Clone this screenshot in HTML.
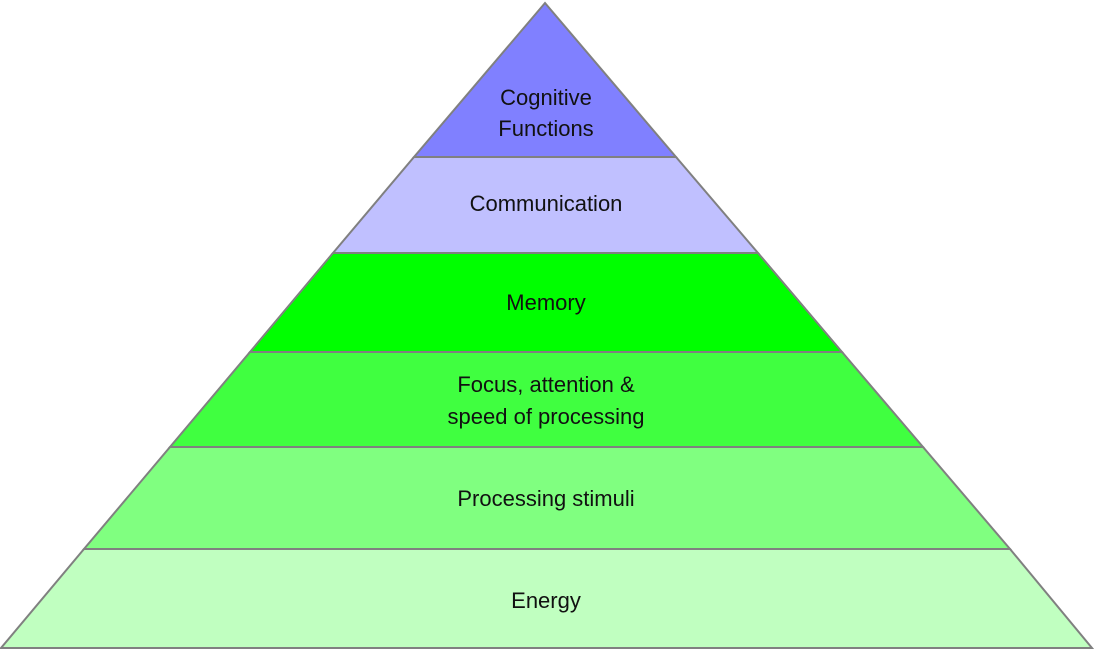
<!DOCTYPE html>
<html><head><meta charset="utf-8"><style>
html,body{margin:0;padding:0;background:#fff;width:1094px;height:650px;overflow:hidden}
text{font-family:"Liberation Sans",Arial,sans-serif;font-size:22px;fill:#111;text-anchor:middle}
</style></head><body>
<svg width="1094" height="650" viewBox="0 0 1094 650" xmlns="http://www.w3.org/2000/svg">
<g stroke="#808080" stroke-width="2" stroke-linejoin="miter">
<polygon points="545,3 676,157 414,157" fill="#8080ff"/>
<polygon points="414,157 676,157 758,253 333,253" fill="#c0c0ff"/>
<polygon points="333,253 758,253 842,352 250,352" fill="#00ff00"/>
<polygon points="250,352 842,352 923,447 170,447" fill="#40ff40"/>
<polygon points="170,447 923,447 1010,549 84,549" fill="#80ff80"/>
<polygon points="84,549 1010,549 1092,648 1,648" fill="#c0ffc0"/>
</g>
<text x="546" y="105">Cognitive</text>
<text x="546" y="136">Functions</text>
<text x="546" y="211">Communication</text>
<text x="546" y="310">Memory</text>
<text x="546" y="392">Focus, attention &amp;</text>
<text x="546" y="424">speed of processing</text>
<text x="546" y="506">Processing stimuli</text>
<text x="546" y="608">Energy</text>
</svg>
</body></html>
